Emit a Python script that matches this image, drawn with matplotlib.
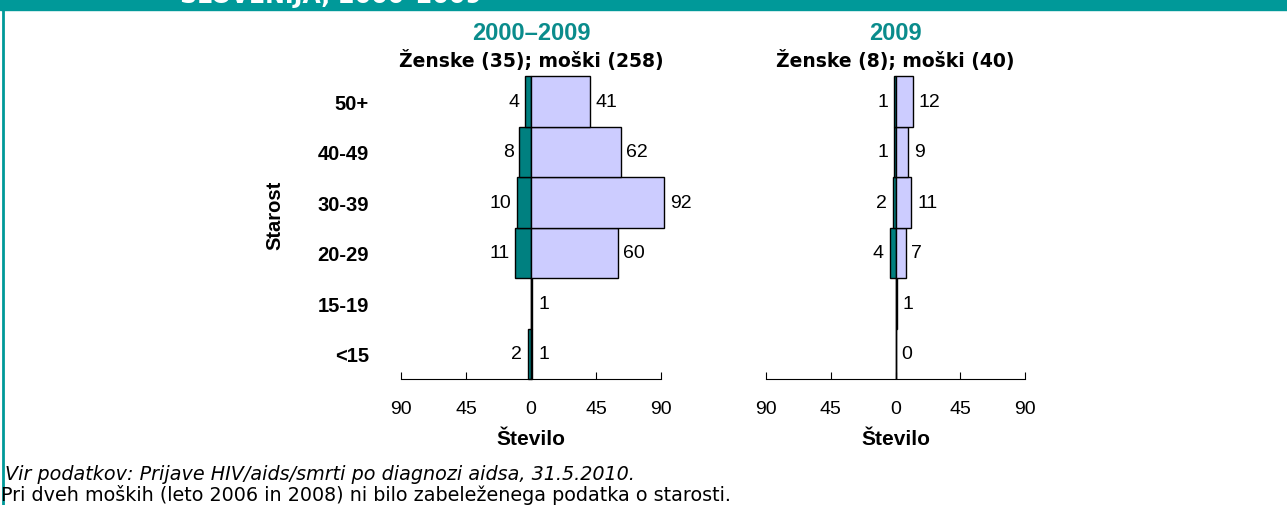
import numpy as np
import matplotlib.pyplot as plt
from matplotlib.lines import Line2D

# --- data ---
age_groups = ['<15', '15-19', '20-29', '30-39', '40-49', '50+']
women_all = [2, 0, 11, 10, 8, 4]
men_all = [1, 1, 60, 92, 62, 41]
women_2009 = [0, 0, 4, 2, 1, 1]
men_2009 = [0, 1, 7, 11, 9, 12]
women_labels_all = ['2', '', '11', '10', '8', '4']
women_labels_2009 = ['', '', '4', '2', '1', '1']
men_labels_all = ['1', '1', '60', '92', '62', '41']
men_labels_2009 = ['0', '1', '7', '11', '9', '12']
xticks = [-90, -45, 0, 45, 90]

TEAL = '#008080'
LAVENDER = '#CCCCFF'
TITLE_TEAL = '#0A8C8C'
BAND = '#009999'

plt.rcParams['font.family'] = ['Liberation Sans', 'DejaVu Sans']

W, H = 1287, 506
fig = plt.figure(figsize=(W / 100, H / 100), dpi=100)

# top banner (its title is cut off in the original) and left border
fig.patches.append(plt.Rectangle((0, 1 - 11 / H), 1, 11 / H, transform=fig.transFigure,
                                 color=BAND, zorder=0))
fig.lines.append(Line2D([3 / W, 3 / W], [0, 1], transform=fig.transFigure,
                        color=BAND, lw=2))
fig.text(180 / W, 1 - 3 / H, 'SLOVENIJA, 2000\u20132009', color='white', fontsize=17,
         fontweight='bold', va='baseline', ha='left', family=['DejaVu Sans'])


def pyramid(ax, women, men, wlab, mlab, title, subtitle, show_y):
    y = np.arange(len(age_groups))
    ax.barh(y, [-v for v in women], height=1.0, color=TEAL, edgecolor='black', lw=1,
            zorder=2, clip_on=False)
    ax.barh(y, men, height=1.0, color=LAVENDER, edgecolor='black', lw=1,
            zorder=2, clip_on=False)
    ax.axvline(0, color='black', lw=0.8, zorder=1)
    for i in range(len(age_groups)):
        if wlab[i]:
            ax.text(-women[i] - 4, y[i], wlab[i], ha='right', va='center', fontsize=14)
        if mlab[i]:
            ax.text(men[i] + 4, y[i], mlab[i], ha='left', va='center', fontsize=14)
    ax.set_xlim(-90, 90)
    ax.set_ylim(-0.5, len(age_groups) - 0.5)
    ax.set_xticks(xticks)
    ax.set_xticklabels([str(abs(t)) for t in xticks], fontsize=14)
    ax.tick_params(axis='x', direction='in', length=5, pad=15)
    for s in ['top', 'right', 'left']:
        ax.spines[s].set_visible(False)
    ax.spines['bottom'].set_linewidth(0.8)
    if show_y:
        ax.set_yticks(y)
        ax.set_yticklabels(age_groups, fontsize=14.5, fontweight='bold')
        ax.tick_params(axis='y', length=0, pad=23)
    else:
        ax.set_yticks([])
    ax.set_xlabel('\u0160tevilo', fontsize=15, fontweight='bold', labelpad=9)
    ax.text(0, 1.145, title, transform=ax.get_xaxis_transform(), ha='center', va='center',
            fontsize=17, fontweight='bold', color=TITLE_TEAL)
    ax.text(0, 1.055, subtitle, transform=ax.get_xaxis_transform(), ha='center', va='center',
            fontsize=13.5, fontweight='bold', family=['DejaVu Sans'])


ax1 = fig.add_axes([401 / W, 1 - 380 / H, 260 / W, 303 / H])
ax2 = fig.add_axes([766 / W, 1 - 380 / H, 259 / W, 303 / H])
pyramid(ax1, women_all, men_all, women_labels_all, men_labels_all,
        '2000\u20132009', '\u017denske (35); mo\u0161ki (258)', True)
pyramid(ax2, women_2009, men_2009, women_labels_2009, men_labels_2009,
        '2009', '\u017denske (8); mo\u0161ki (40)', False)

fig.text(275 / W, 1 - 215 / H, 'Starost', rotation=90, ha='center', va='center',
         fontsize=14.5, fontweight='bold')

fig.text(5 / W, 1 - 480 / H, 'Vir podatkov: Prijave HIV/aids/smrti po diagnozi aidsa, 31.5.2010.',
         fontsize=13.8, style='italic', va='baseline', ha='left', family=['DejaVu Sans'])
fig.text(1 / W, 1 - 501 / H,
         'Pri dveh mo\u0161kih (leto 2006 in 2008) ni bilo zabele\u017eenega podatka o starosti.',
         fontsize=13.8, va='baseline', ha='left', family=['DejaVu Sans'])

fig.savefig('out.png', dpi=100)
